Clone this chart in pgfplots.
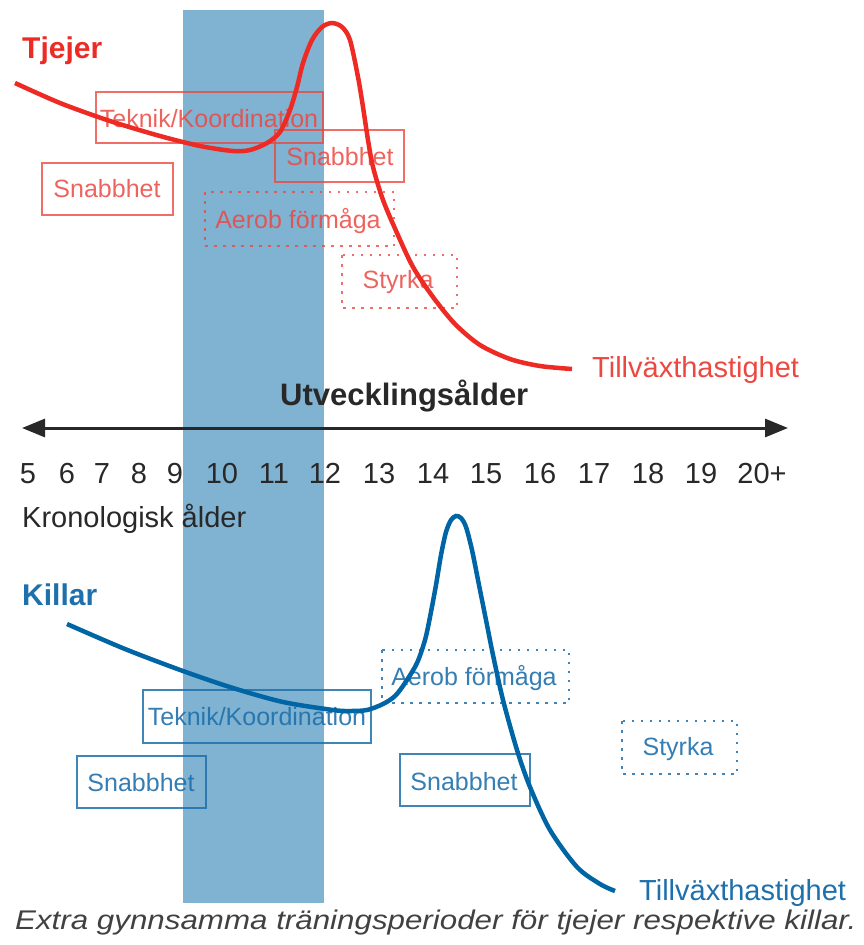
\documentclass[border=0pt]{standalone}
\usepackage{pgfplots}
\pgfplotsset{compat=1.18}
\usepackage{fontspec}
\setmainfont{Liberation Sans}
\newfontfamily\capfont[FakeStretch=1.16]{Liberation Sans}
\usetikzlibrary{arrows.meta}
\definecolor{band}{RGB}{128,178,210}
\definecolor{redcurve}{RGB}{237,43,36}
\definecolor{redbox}{RGB}{236,72,66}
\definecolor{bluecurve}{RGB}{0,101,164}
\definecolor{bluebox}{RGB}{30,112,172}
\definecolor{darktext}{RGB}{40,40,40}
\definecolor{captext}{RGB}{65,65,65}
\newcommand{\fs}[1]{\fontsize{#1bp}{#1bp}\selectfont}
\begin{document}
\begin{tikzpicture}
\begin{axis}[x=1bp, y=1bp, xmin=0, xmax=864, ymin=0, ymax=945, y dir=reverse,
  hide axis, clip=false, scale only axis]
\path (axis cs:0,0) rectangle (axis cs:864,945);
% band
\fill[band] (axis cs:183,10) rectangle (axis cs:324,903);
% arrow axis
\draw[line width=3bp, darktext, {Triangle[length=23bp,width=18bp]}-{Triangle[length=23bp,width=18bp]}] (axis cs:22,428) -- (axis cs:788,428);
\node[anchor=base west, darktext, font=\fs{31}\bfseries, inner sep=0pt] at (axis cs:280,405) {Utvecklingsålder};
\node[anchor=base west, darktext, font=\fs{29}, inner sep=0pt] at (axis cs:22,527) {Kronologisk ålder};
\foreach \xx/\lab in {28/5,67/6,102/7,139/8,175/9,222/10,274/11,325/12,379/13,433/14,486/15,540/16,594/17,648/18,701/19,762/20+}{
  \edef\tmp{\noexpand\node[anchor=base, darktext, font=\noexpand\fs{29}, inner sep=0pt] at (axis cs:\xx,483) {\lab};}\tmp
}
% red boxes
\begin{scope}[redbox, opacity=0.8, line width=2bp]
\draw (axis cs:96,92) rectangle (axis cs:323,143);
\draw (axis cs:275,130) rectangle (axis cs:404,182);
\draw (axis cs:42,163) rectangle (axis cs:173,215);
\draw[line width=2.5bp, dash pattern=on 2.5bp off 6.5bp] (axis cs:205,192) rectangle (axis cs:394,246);
\draw[line width=2.5bp, dash pattern=on 2.5bp off 6.5bp] (axis cs:342,255) rectangle (axis cs:457,308);
\end{scope}
\begin{scope}[every node/.style={anchor=base, text=redbox, text opacity=0.85, font=\fs{25}, inner sep=0pt}]
\node at (axis cs:209,127) {Teknik/Koordination};
\node at (axis cs:340,165) {Snabbhet};
\node at (axis cs:107,197) {Snabbhet};
\node at (axis cs:298,228) {Aerob förmåga};
\node at (axis cs:398,288) {Styrka};
\end{scope}
% blue boxes
\begin{scope}[bluebox, opacity=0.85, line width=2bp]
\draw (axis cs:143,690) rectangle (axis cs:371,743);
\draw (axis cs:77,756) rectangle (axis cs:206,808);
\draw (axis cs:400,754) rectangle (axis cs:530,806);
\draw[line width=2.5bp, dash pattern=on 2.5bp off 6.5bp] (axis cs:382,650) rectangle (axis cs:569,703);
\draw[line width=2.5bp, dash pattern=on 2.5bp off 6.5bp] (axis cs:622,721) rectangle (axis cs:737,774);
\end{scope}
\begin{scope}[every node/.style={anchor=base, text=bluebox, text opacity=0.9, font=\fs{25}, inner sep=0pt}]
\node at (axis cs:257,725) {Teknik/Koordination};
\node at (axis cs:141,791) {Snabbhet};
\node at (axis cs:464,790) {Snabbhet};
\node at (axis cs:474,685) {Aerob förmåga};
\node at (axis cs:678,755) {Styrka};
\end{scope}
% curves
\addplot[redcurve, line width=4.5bp, smooth, tension=0.5] coordinates {
(15,83) (60,103) (110,121) (160,136) (200,146) (233,151) (250,150)
(267,143) (280,132) (290,110) (297,87) (303,63) (312,40) (322,27) (332,23)
(342,27) (350,40) (358,77) (363,107) (368,140) (373,167) (383,200) (397,233)
(413,267) (433,297) (455,324) (480,345) (510,359) (540,366) (572,369)};
\addplot[bluecurve, line width=4.5bp, smooth, tension=0.5] coordinates {
(67,624) (125,649) (183,671) (233,688) (283,702) (333,710) (350,711)
(367,710) (383,704) (395,696) (405,683) (417,663) (425,640) (430,617) (436,585)
(441,555) (446,532) (451,520) (456,516) (461,518) (466,527) (472,550) (478,580)
(483,605) (488,630) (493,655) (503,700) (517,750) (530,787) (550,830) (577,867)
(600,884) (615,891)};
% labels
\node[anchor=base west, text=redcurve, font=\fs{30}\bfseries, inner sep=0pt] at (axis cs:22,58) {Tjejer};
\node[anchor=base west, text=bluebox, font=\fs{30}\bfseries, inner sep=0pt] at (axis cs:22,605) {Killar};
\node[anchor=base west, text=redbox, font=\fs{29}, inner sep=0pt] at (axis cs:592,377) {Tillväxthastighet};
\node[anchor=base west, text=bluebox, font=\fs{29}, inner sep=0pt] at (axis cs:639,900) {Tillväxthastighet};
\node[anchor=base west, text=captext, font=\capfont\itshape\fs{27}, inner sep=0pt] at (axis cs:15,929) {Extra gynnsamma träningsperioder för tjejer respektive killar.};
\end{axis}
\end{tikzpicture}
\end{document}
